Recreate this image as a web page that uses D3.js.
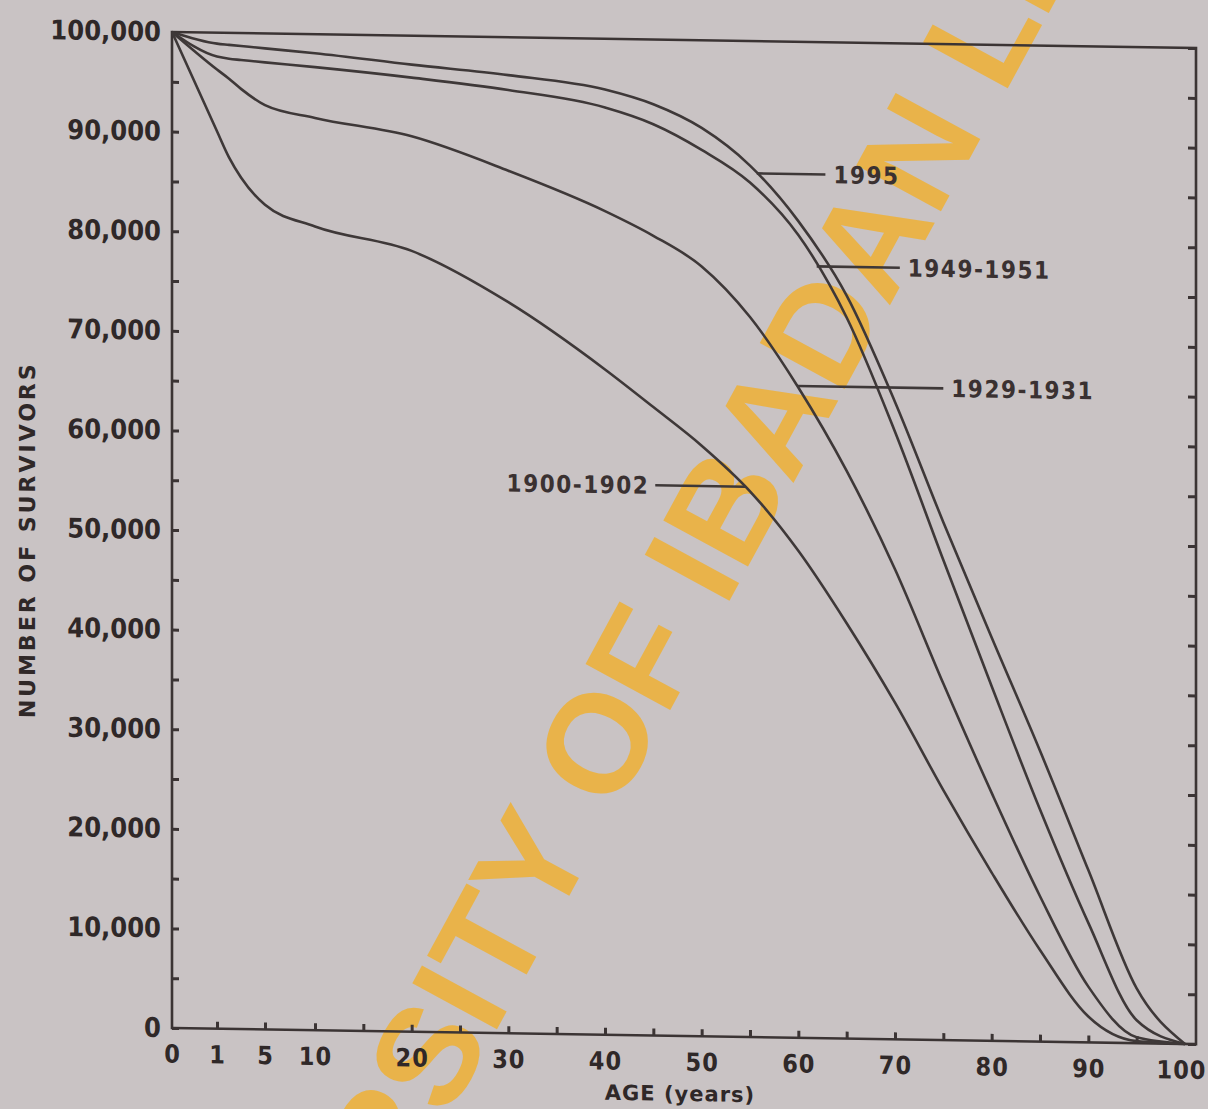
<!DOCTYPE html>
<html>
<head>
<meta charset="utf-8">
<script src="https://cdn.jsdelivr.net/npm/d3@7"></script>
<style>
  html, body { margin: 0; padding: 0; background: #c9c3c4; }
  svg { display: block; }
</style>
</head>
<body>
<svg id="chart" width="1208" height="1109"></svg>
<script>
// Survivors out of 100,000 births, by age, for four life tables
const ages = [0, 1, 2, 3, 5, 10, 20, 30, 40, 45, 50, 55, 60, 65, 70, 75, 80, 85, 90, 95, 100];
const survivors1995 = [100000, 98900, 98800, 98700, 98500, 98100, 97100, 96200, 94900, 93500, 91200, 87500, 82000, 74600, 64000, 52000, 40500, 29200, 17300, 5500, 0];
const survivors1949 = [100000, 97600, 97400, 97300, 97100, 96700, 95800, 94700, 93100, 91500, 89000, 85800, 80600, 72400, 61000, 48200, 35600, 23300, 12000, 2300, 0];
const survivors1929 = [100000, 96300, 95400, 94400, 92800, 91600, 89900, 86600, 82700, 80300, 77300, 72300, 65300, 57000, 47200, 35800, 24900, 14600, 5600, 600, 0];
const survivors1900 = [100000, 90100, 87500, 85500, 82800, 80700, 78400, 73400, 66800, 63100, 59300, 54800, 48900, 41700, 33800, 25100, 16900, 9200, 2600, 200, 0];

const seriesNames = ["1995", "1949-1951", "1929-1931", "1900-1902"];
// age at which each label's leader meets its curve, and age where the leader stops
const leaderCurveAges = [55.7, 61.9, 59.9, 54.5];
const leaderEndAges = [62.8, 70.5, 75.0, 45.2];

const yTickLabels = [0, 10000, 20000, 30000, 40000, 50000, 60000, 70000, 80000, 90000, 100000];
const yMinorTicks = d3.range(0, 100001, 5000);
const xTickLabels = [0, 1, 5, 10, 20, 30, 40, 50, 60, 70, 80, 90, 100];
const xMinorTicks = [1, 5].concat(d3.range(10, 100, 5));

const ink = "#3b3434";
const textInk = "#2f2828";
const condensed = "'DejaVu Sans Condensed', 'DejaVu Sans', sans-serif";

const svg = d3.select("#chart");
svg.append("rect").attr("width", 1208).attr("height", 1109).attr("fill", "#c9c3c4");

// library stamp across the sheet, under the drawing
const stamp = svg.append("text")
  .attr("fill", "#ecb23f")
  .attr("fill-opacity", 0.92)
  .style("font-family", "'Liberation Sans', Arial, sans-serif")
  .style("font-weight", "bold")
  .style("font-size", "140px")
  .text("UNIVERSITY OF IBADAN LIBRARY");
const lead = stamp.node().getSubStringLength(0, 14);
stamp.attr("x", -lead).attr("transform", "translate(725,609) rotate(-61.5)");

// the age axis stretches its first decade
const x = d3.scaleLinear().domain([0, 1, 5, 10, 100]).range([172, 217, 265, 315, 1185]);
const y = d3.scaleLinear().domain([0, 100000]).range([1028, 32]);
const frameRight = 1196;

// whole plot sits on a slight slant
const g = svg.append("g")
  .attr("transform", "translate(172,0) skewY(0.9) translate(-172,0)");

// frame
g.append("path")
  .attr("d", `M${x(0)},${y(100000)} H${frameRight} V${y(0)} H${x(0)} Z`)
  .attr("fill", "none").attr("stroke", ink).attr("stroke-width", 2.6);

// inward ticks, left, right and bottom
const leftTicks = g.append("g").attr("transform", `translate(${x(0)},0)`)
  .call(d3.axisRight(y).tickValues(yMinorTicks).tickSize(7).tickFormat(""));
const rightTicks = g.append("g").attr("transform", `translate(${frameRight},0)`)
  .call(d3.axisLeft(y).tickValues(yMinorTicks).tickSize(8).tickFormat(""));
const bottomTicks = g.append("g").attr("transform", `translate(0,${y(0)})`)
  .call(d3.axisTop(x).tickValues(xMinorTicks).tickSize(7).tickFormat(""));
[leftTicks, rightTicks, bottomTicks].forEach(a => {
  a.select(".domain").remove();
  a.selectAll("line").attr("stroke", ink).attr("stroke-width", 3);
});

// tick labels
const yLabels = g.append("g").attr("transform", `translate(${x(0)},0)`)
  .call(d3.axisLeft(y).tickValues(yTickLabels).tickSize(0).tickPadding(11).tickFormat(d3.format(",")));
const xLabels = g.append("g").attr("transform", `translate(0,${y(0)})`)
  .call(d3.axisBottom(x).tickValues(xTickLabels).tickSize(0).tickPadding(17));
[yLabels, xLabels].forEach(a => {
  a.select(".domain").remove();
  a.selectAll("text")
    .attr("fill", textInk)
    .style("font-family", condensed)
    .style("font-stretch", "condensed")
    .style("font-weight", "bold");
});
yLabels.selectAll("text").style("font-size", "27px");
xLabels.selectAll("text").style("font-size", "25px").style("letter-spacing", "1px");
xLabels.selectAll("text").filter(d => d === 100).attr("dx", -4);

// axis titles
g.append("text")
  .attr("transform", "translate(35,542) rotate(-90)")
  .attr("text-anchor", "middle")
  .attr("fill", textInk)
  .style("font-family", "'DejaVu Sans', sans-serif").style("font-weight", "bold")
  .style("font-size", "22px").style("letter-spacing", "3px")
  .text("NUMBER OF SURVIVORS");
g.append("text")
  .attr("x", 680).attr("y", 1093)
  .attr("text-anchor", "middle")
  .attr("fill", textInk)
  .style("font-family", "'DejaVu Sans', sans-serif").style("font-weight", "bold")
  .style("font-size", "21px").style("letter-spacing", "1px")
  .text("AGE (years)");

// survival curves
const allSeries = [survivors1995, survivors1949, survivors1929, survivors1900];
const line = d3.line()
  .x((d, i) => x(ages[i]))
  .y(d => y(d))
  .curve(d3.curveMonotoneX);
g.append("g").selectAll("path").data(allSeries).join("path")
  .attr("d", line)
  .attr("fill", "none")
  .attr("stroke", "#3e3838")
  .attr("stroke-width", 2.6)
  .attr("stroke-linejoin", "round");

// labels with leader lines
allSeries.forEach((vals, i) => {
  const atAge = d3.scaleLinear().domain(ages).range(vals);
  const ly = y(atAge(leaderCurveAges[i]));
  const x0 = x(leaderCurveAges[i]);
  const x1 = x(leaderEndAges[i]);
  g.append("line")
    .attr("x1", x0).attr("x2", x1).attr("y1", ly).attr("y2", ly)
    .attr("stroke", "#3e3838").attr("stroke-width", 2.6);
  const leftSide = x1 < x0;
  g.append("text")
    .attr("x", leftSide ? x1 - 6 : x1 + 8)
    .attr("y", ly)
    .attr("dy", "0.36em")
    .attr("text-anchor", leftSide ? "end" : "start")
    .attr("fill", "#3a3131")
    .style("font-family", condensed).style("font-stretch", "condensed")
    .style("font-weight", "bold")
    .style("font-size", "24px").style("letter-spacing", "1.5px")
    .text(seriesNames[i]);
});
</script>
</body>
</html>
